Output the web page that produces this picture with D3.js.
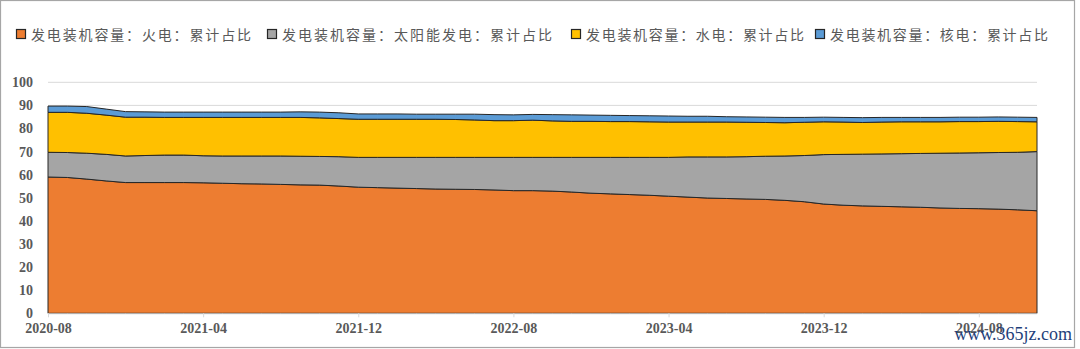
<!DOCTYPE html>
<html><head><meta charset="utf-8">
<script src="https://cdn.jsdelivr.net/npm/d3@7"></script>
<style>
html,body{margin:0;padding:0;background:#fff;}
svg{display:block;}
</style></head>
<body>
<svg id="chart" width="1080" height="349"></svg>
<script>
// ---- data ----
const seriesNames = ["发电装机容量：火电：累计占比","发电装机容量：太阳能发电：累计占比","发电装机容量：水电：累计占比","发电装机容量：核电：累计占比"];
const tickLabels = ["2020-08","2021-04","2021-12","2022-08","2023-04","2023-12","2024-08"];
const yTicks = [0,10,20,30,40,50,60,70,80,90,100];
// monthly categories 2020-08 .. 2024-11
const months = [];
for (let y = 2020, m = 8; y < 2024 || (y === 2024 && m <= 11); ) {
  months.push(y + "-" + String(m).padStart(2, "0"));
  m++; if (m > 12) { m = 1; y++; }
}
const thermal = [59.0,58.8,58.1,57.3,56.6,56.6,56.6,56.6,56.5,56.3,56.1,56.0,55.8,55.6,55.5,55.1,54.6,54.4,54.2,54.0,53.8,53.7,53.6,53.4,53.1,53.1,52.9,52.5,52.0,51.7,51.4,51.1,50.7,50.3,49.9,49.7,49.5,49.3,48.9,48.3,47.3,46.8,46.5,46.3,46.1,45.9,45.6,45.4,45.3,45.1,44.8,44.4];
const solar   = [10.7,10.8,11.2,11.5,11.5,11.7,11.9,11.9,11.7,11.8,12.0,12.1,12.3,12.4,12.4,12.7,12.9,13.1,13.3,13.5,13.7,13.8,13.9,14.1,14.4,14.4,14.6,15.0,15.5,15.8,16.1,16.4,16.8,17.4,17.8,18.0,18.3,18.7,19.2,20.0,21.4,22.0,22.4,22.7,23.0,23.3,23.7,24.0,24.2,24.5,24.9,25.6];
const hydro   = [17.3,17.4,17.3,17.0,16.8,16.6,16.3,16.3,16.6,16.7,16.7,16.7,16.7,16.8,16.7,16.5,16.5,16.5,16.5,16.5,16.5,16.4,16.2,15.9,15.9,16.1,15.8,15.6,15.6,15.5,15.5,15.4,15.3,15.1,15.1,15.1,14.9,14.6,14.4,14.4,14.2,14.0,13.7,13.8,13.8,13.7,13.6,13.6,13.5,13.5,13.3,12.9];
const nuclear = [2.7,2.7,2.9,2.6,2.4,2.3,2.3,2.3,2.3,2.3,2.3,2.3,2.3,2.4,2.5,2.5,2.3,2.3,2.3,2.2,2.2,2.3,2.5,2.6,2.5,2.5,2.7,2.8,2.7,2.7,2.6,2.6,2.6,2.5,2.5,2.3,2.3,2.3,2.3,2.1,2.0,2.0,2.1,2.0,1.9,1.9,1.9,1.9,1.9,1.9,1.9,1.9];
const colors = ["#ED7D31","#A5A5A5","#FFC000","#5B9BD5"];

// ---- layout ----
const svg = d3.select("#chart");
const x0 = 48, x1 = 1037, yTop = 82.3, yBot = 313.3;

svg.append("rect").attr("x",0.5).attr("y",0.5).attr("width",1074).attr("height",347)
  .attr("fill","#fff").attr("stroke","#a6a6a6").attr("stroke-width",1.2);

const x = d3.scalePoint().domain(months).range([x0, x1]);
const y = d3.scaleLinear().domain([0,100]).range([yBot, yTop]);

// gridlines
svg.append("g").selectAll("line").data(yTicks.filter(d=>d>0)).join("line")
  .attr("x1", x0).attr("x2", x1)
  .attr("y1", d=>y(d)).attr("y2", d=>y(d))
  .attr("stroke","#d9d9d9").attr("stroke-width",1);

// stacked data
const rows = months.map((m,i)=>({m, a:thermal[i], b:solar[i], c:hydro[i], d:nuclear[i]}));
const stack = d3.stack().keys(["a","b","c","d"])(rows);
const area = d3.area().x(d=>x(d.data.m)).y0(d=>y(d[0])).y1(d=>y(d[1]));
svg.append("g").selectAll("path").data(stack).join("path")
  .attr("d", area)
  .attr("fill", (d,i)=>colors[i])
  .attr("stroke","#262626").attr("stroke-width",1).attr("stroke-linejoin","round");

// x axis
const xAxis = d3.axisBottom(x).tickValues(tickLabels).tickSize(4).tickSizeOuter(0);
const gx = svg.append("g").attr("transform",`translate(0,${yBot})`).call(xAxis);
gx.select(".domain").attr("stroke","#d9d9d9").attr("d",`M${x0},0.5H${x1}`);
gx.selectAll(".tick line").attr("stroke","#d9d9d9");
gx.selectAll(".tick text").attr("dy",0).attr("y",20)
  .attr("fill","#595959").style("font-family","'Liberation Serif','Times New Roman',serif")
  .style("font-size","14px").style("font-weight","bold");

// y axis
const yAxis = d3.axisLeft(y).tickValues(yTicks).tickSize(0);
const gy = svg.append("g").attr("transform",`translate(${x0-15},0)`).call(yAxis);
gy.select(".domain").remove();
gy.selectAll(".tick text").attr("x",0)
  .attr("fill","#595959").style("font-family","'Liberation Serif','Times New Roman',serif")
  .style("font-size","14px").style("font-weight","bold");

// legend
const legX = [16, 267, 571, 815];
const legW = [220, 270, 218, 218];
const leg = svg.append("g");
seriesNames.forEach((n,i)=>{
  leg.append("rect").attr("x",legX[i]+0.5).attr("y",29.5).attr("width",9).attr("height",9)
    .attr("fill",colors[i]).attr("stroke","#262626").attr("stroke-width",1.2);
  leg.append("text").attr("x",legX[i]+15).attr("y",39.5).text(n)
    .attr("textLength", legW[i]).attr("lengthAdjust","spacing")
    .attr("fill","#595959").style("font-family","'Noto Sans CJK SC',sans-serif")
    .style("font-size","14px");
});

// watermark
svg.append("text").attr("x",1072).attr("y",340).attr("text-anchor","end")
  .text("www.365jz.com").attr("fill","#1f3f7a")
  .style("font-family","'Liberation Serif',serif").style("font-size","18px");
</script>
</body></html>
